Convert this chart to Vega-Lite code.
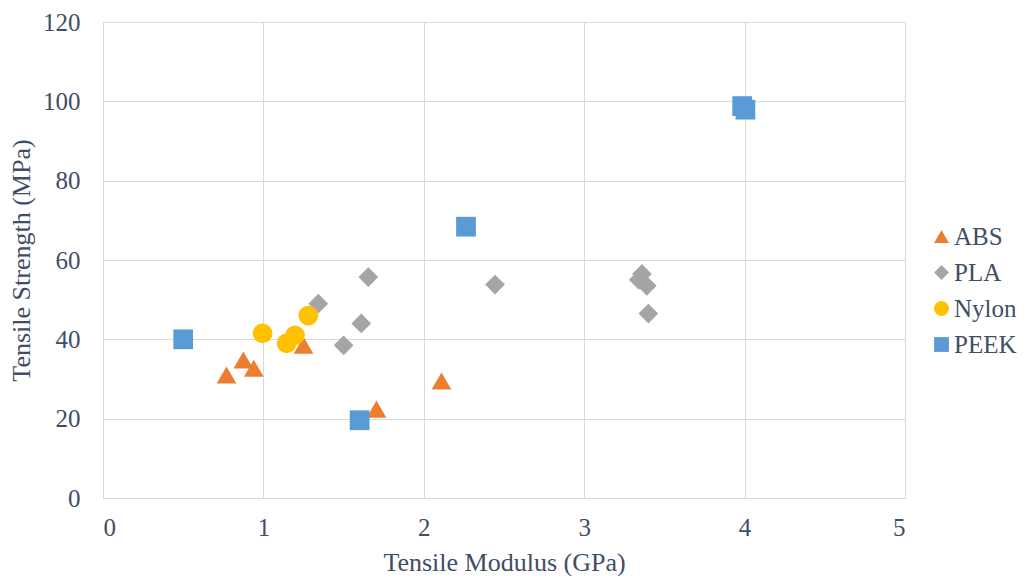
{
  "$schema": "https://vega.github.io/schema/vega-lite/v6.json",
  "width": 802,
  "height": 476,
  "autosize": "none",
  "padding": {"left": 103, "top": 22, "right": 121, "bottom": 80},
  "background": "white",
  "config": {
    "font": "Liberation Serif",
    "view": {"stroke": null},
    "axis": {
      "labelFont": "Liberation Serif",
      "titleFont": "Liberation Serif",
      "labelColor": "#3F4E66",
      "titleColor": "#3F4E66",
      "labelFontSize": 25,
      "titleFontSize": 26,
      "titleFontWeight": "normal",
      "gridColor": "#D9D9D9",
      "domainColor": "#D9D9D9",
      "ticks": false
    }
  },
  "data": {
    "values": [
      {"mod": 0.77, "str": 31.0, "mat": "ABS"},
      {"mod": 0.875, "str": 34.8, "mat": "ABS"},
      {"mod": 0.94, "str": 32.7, "mat": "ABS"},
      {"mod": 1.25, "str": 38.5, "mat": "ABS"},
      {"mod": 1.705, "str": 22.4, "mat": "ABS"},
      {"mod": 2.11, "str": 29.5, "mat": "ABS"},
      {"mod": 1.342, "str": 49.0, "mat": "PLA"},
      {"mod": 1.50, "str": 38.5, "mat": "PLA"},
      {"mod": 1.61, "str": 44.0, "mat": "PLA"},
      {"mod": 1.654, "str": 55.7, "mat": "PLA"},
      {"mod": 2.444, "str": 53.8, "mat": "PLA"},
      {"mod": 3.36, "str": 56.5, "mat": "PLA"},
      {"mod": 3.34, "str": 55.0, "mat": "PLA"},
      {"mod": 3.39, "str": 53.5, "mat": "PLA"},
      {"mod": 3.40, "str": 46.5, "mat": "PLA"},
      {"mod": 0.995, "str": 41.5, "mat": "Nylon"},
      {"mod": 1.145, "str": 39.0, "mat": "Nylon"},
      {"mod": 1.197, "str": 41.0, "mat": "Nylon"},
      {"mod": 1.28, "str": 46.0, "mat": "Nylon"},
      {"mod": 0.50, "str": 40.0, "mat": "PEEK"},
      {"mod": 1.60, "str": 19.6, "mat": "PEEK"},
      {"mod": 2.263, "str": 68.4, "mat": "PEEK"},
      {"mod": 3.985, "str": 98.8, "mat": "PEEK"},
      {"mod": 4.005, "str": 97.9, "mat": "PEEK"}
    ]
  },
  "mark": {"type": "point", "filled": true, "opacity": 1, "size": 390},
  "encoding": {
    "x": {
      "field": "mod", "type": "quantitative",
      "title": "Tensile Modulus (GPa)",
      "scale": {"domain": [0, 5], "nice": false},
      "axis": {"values": [0, 1, 2, 3, 4, 5], "format": "d", "labelPadding": 17, "titlePadding": 9}
    },
    "y": {
      "field": "str", "type": "quantitative",
      "title": "Tensile Strength (MPa)",
      "scale": {"domain": [0, 120], "nice": false},
      "axis": {"values": [0, 20, 40, 60, 80, 100, 120], "labelPadding": 23, "titlePadding": 8}
    },
    "color": {
      "field": "mat", "type": "nominal",
      "scale": {"domain": ["ABS", "PLA", "Nylon", "PEEK"], "range": ["#ED7D31", "#A5A5A5", "#FFC000", "#5B9BD5"]},
      "legend": {
        "title": null, "orient": "none", "legendX": 826, "legendY": 202,
        "labelFont": "Liberation Serif", "labelFontSize": 25, "labelColor": "#3F4E66",
        "symbolSize": 220, "rowPadding": 10, "labelOffset": 0, "symbolOpacity": 1
      }
    },
    "shape": {
      "field": "mat", "type": "nominal",
      "scale": {"domain": ["ABS", "PLA", "Nylon", "PEEK"], "range": ["triangle-up", "diamond", "circle", "square"]},
      "legend": null
    }
  }
}
